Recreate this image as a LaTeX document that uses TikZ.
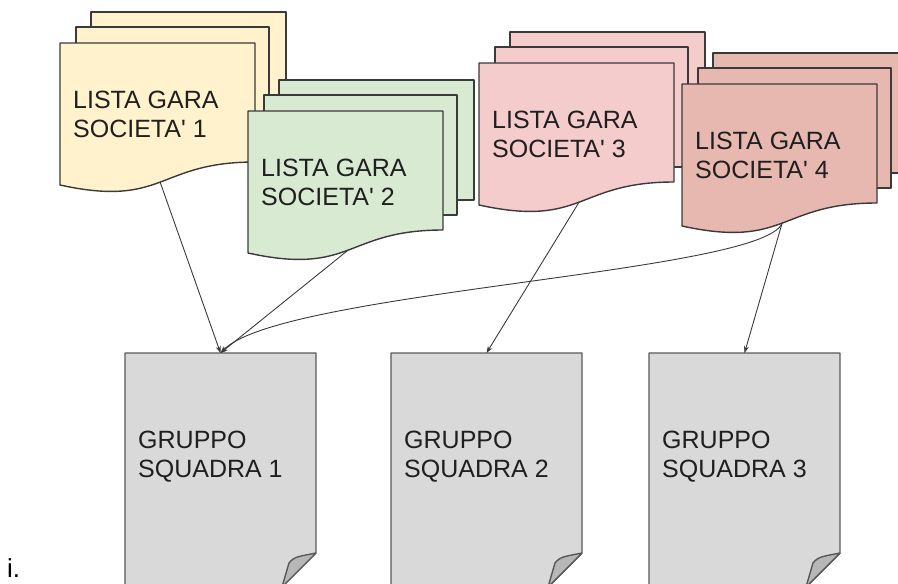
\documentclass[tikz,border=0pt]{standalone}
\usepackage{fontspec}
\setmainfont{Liberation Sans}
\usetikzlibrary{calc}
\usetikzlibrary{positioning}
\usetikzlibrary{arrows.meta}

\definecolor{socyellow}{HTML}{FFF2CC}
\definecolor{socgreen}{HTML}{D9EAD3}
\definecolor{socpink}{HTML}{F4CCCC}
\definecolor{socred}{HTML}{E6B8AF}
\definecolor{pagegray}{HTML}{D9D9D9}
\definecolor{foldgray}{HTML}{B7B7B7}
\definecolor{edgegray}{HTML}{3A3A3A}
\definecolor{linkgray}{HTML}{3A3A3A}

\tikzset{sheet/.style={draw=edgegray,
                        line width=1.4pt,
                        line join=round
                        },
        sheettext/.style={anchor=base west,
                        align=left,
                        inner sep=0pt,
                        text=black!88,
                        font=\fontsize{25}{29}\selectfont
                        },
        squadpage/.style={rectangle,
                        minimum width=191pt,
                        minimum height=234pt,
                        inner sep=0pt,
                        outer sep=0pt
        },
        link/.style={-{Stealth[length=7pt,width=5pt]},
                        draw=linkgray,
                        line width=0.9pt
        },
}

% stack of three sheets, the front one with a wavy bottom
\newcommand{\sheetstack}[4]{%
    \begin{scope}[shift={(#2)}]
        \filldraw[sheet, fill=#3] (31,0) rectangle (226,120);
        \filldraw[sheet, fill=#3] (16,15) rectangle (209,135);
        \filldraw[sheet, fill=#3] (0,173) .. controls (105,196) and (97,150)
            .. coordinate[pos=.5] (#1-out) (195,150) -- (195,31) -- (0,31) -- cycle;
        \node[sheettext] (#1) at (13,125) {LISTA GARA\\SOCIETA\textquotesingle{} #4};
    \end{scope}
}

\begin{document}
\begin{tikzpicture}
    [x=1pt,y=-1pt]

    \useasboundingbox (0,0) rectangle (898,584);
    \clip (0,0) rectangle (898,584);

    % SOCIETA' STACKS
    \sheetstack{soc1}{60,12}{socyellow}{1}
    \sheetstack{soc2}{248,80}{socgreen}{2}
    \sheetstack{soc3}{479,32}{socpink}{3}
    \sheetstack{soc4}{682,53}{socred}{4}

    % SQUADRA GROUPS
    \node[squadpage] (grp1) at (220.5,470) {};
    \node[squadpage, right=75pt of grp1] (grp2) {};
    \node[squadpage, right=67pt of grp2] (grp3) {};

    \foreach \g in {1,2,3} {
        \filldraw[sheet, fill=pagegray, draw=edgegray!85] (grp\g.north west) -- (grp\g.north east)
            -- ($(grp\g.south east)+(0,-34)$) -- ($(grp\g.south east)+(-34,0)$)
            -- (grp\g.south west) -- cycle;
        \filldraw[sheet, fill=foldgray, draw=edgegray!85] ($(grp\g.south east)+(0,-34)$)
            -- ($(grp\g.south east)+(-34,0)$) -- ($(grp\g.south east)+(-27,-24)$)
            .. controls +(5,-7) and +(-14,3) .. ($(grp\g.south east)+(0,-34)$);
        \node[sheettext] (grp\g-text) at ($(grp\g.north west)+(13,124)$) {GRUPPO\\SQUADRA \g};
    }

    \node[anchor=base west, inner sep=0pt, font=\fontsize{26}{30}\selectfont] (item) at (7,577) {i.};

    \draw[link] (soc1-out) -- (grp1.north);
    \draw[link] (soc2-out) -- (grp1.north);
    \draw[link] (soc3-out) -- (grp2.north);
    \draw[link] (soc4-out) -- (grp3.north);
    \draw[link] (soc4-out) .. controls +(-19,50) and +(60,-62) .. (grp1.north);

\end{tikzpicture}
\end{document}
